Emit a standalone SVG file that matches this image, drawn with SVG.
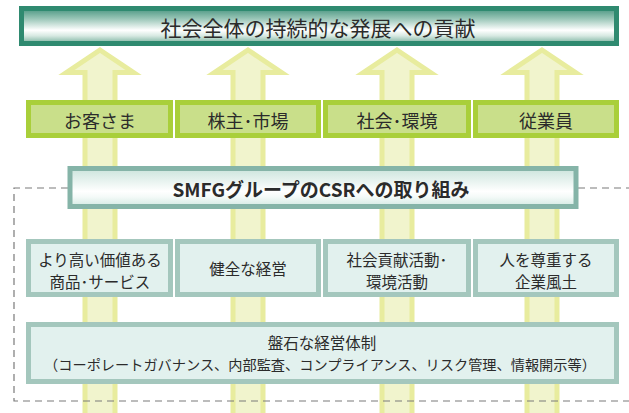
<svg xmlns="http://www.w3.org/2000/svg" width="629" height="413" viewBox="0 0 629 413">
<defs>
<linearGradient id="gTop" x1="0" y1="0" x2="0" y2="1">
<stop offset="0" stop-color="#4a9681"/>
<stop offset="0.3" stop-color="#9cc7b9"/>
<stop offset="0.62" stop-color="#ffffff"/>
<stop offset="0.78" stop-color="#d7e9e2"/>
<stop offset="1" stop-color="#78b09d"/>
</linearGradient>
<linearGradient id="gCsr" x1="0" y1="0" x2="0" y2="1">
<stop offset="0" stop-color="#cbe4dc"/>
<stop offset="0.6" stop-color="#ffffff"/>
<stop offset="0.75" stop-color="#f4faf8"/>
<stop offset="1" stop-color="#d2e9e2"/>
</linearGradient>
<polygon id="arrow" points="0,50 33.5,72.5 15,72.5 15,420 -15,420 -15,72.5 -33.5,72.5"/>
</defs>
<style>
.arr{fill:#f1f4cd;stroke:#e8ec9e;stroke-width:5;stroke-linejoin:miter}
.stk{fill:#c9df8a;stroke:#a9cf3a;stroke-width:5}
.act{fill:#e2f1ee;stroke:#a4c7bd;stroke-width:5}
.dash{fill:none;stroke:#7a7a7a;stroke-width:1.2;stroke-dasharray:7 5}
text{font-family:"Noto Sans CJK JP","Noto Sans CJK SC",sans-serif;fill:#2b2b2b;text-anchor:middle;dominant-baseline:central}
.t15{font-size:15.5px}
.t17{font-size:18px}
</style>
<g id="connectors">
<use href="#arrow" class="arr" x="100"/>
<use href="#arrow" class="arr" x="248"/>
<use href="#arrow" class="arr" x="397"/>
<use href="#arrow" class="arr" x="542"/>
</g>
<g id="boundary">
<path class="dash" d="M68,188 H14 V401 H629 M578,188 H629"/>
</g>
<g id="goal">
<rect x="21.5" y="8.5" width="595" height="35" fill="url(#gTop)" stroke="#2f8a70" stroke-width="5"/>
<text x="318" y="27" style="font-size:21px">社会全体の持続的な発展への貢献</text>
</g>
<g id="stakeholder-customers">
<rect x="28.5" y="102.5" width="142" height="33" class="stk"/>
<text x="100" y="120" class="t17">お客さま</text>
</g>
<g id="stakeholder-shareholders">
<rect x="177.5" y="102.5" width="141" height="33" class="stk"/>
<text x="248" y="120" class="t17">株主･市場</text>
</g>
<g id="stakeholder-society">
<rect x="325.5" y="102.5" width="143" height="33" class="stk"/>
<text x="397" y="120" class="t17">社会･環境</text>
</g>
<g id="stakeholder-employees">
<rect x="475.5" y="102.5" width="141" height="33" class="stk"/>
<text x="546" y="120" class="t17">従業員</text>
</g>
<g id="csr">
<rect x="70" y="168.5" width="506" height="38" fill="url(#gCsr)" stroke="#85b4a8" stroke-width="5"/>
<text x="321" y="188" style="font-size:19px;font-weight:bold">SMFGグループのCSRへの取り組み</text>
</g>
<g id="activity-products">
<rect x="28.5" y="241.5" width="142" height="53" class="act"/>
<text x="100" y="259" class="t15">より高い価値ある</text>
<text x="100" y="281" class="t15">商品･サービス</text>
</g>
<g id="activity-management">
<rect x="177.5" y="241.5" width="141" height="53" class="act"/>
<text x="248" y="268" class="t15">健全な経営</text>
</g>
<g id="activity-contribution">
<rect x="325.5" y="241.5" width="143" height="53" class="act"/>
<text x="397" y="259" class="t15">社会貢献活動･</text>
<text x="397" y="281" class="t15">環境活動</text>
</g>
<g id="activity-culture">
<rect x="475.5" y="241.5" width="141" height="53" class="act"/>
<text x="546" y="259" class="t15">人を尊重する</text>
<text x="546" y="281" class="t15">企業風土</text>
</g>
<g id="foundation">
<rect x="28.5" y="324.5" width="588" height="57" class="act"/>
<text x="322" y="342" class="t15">盤石な経営体制</text>
<text x="320" y="364" style="font-size:14.2px">（コーポレートガバナンス、内部監査、コンプライアンス、リスク管理、情報開示等）</text>
</g>
</svg>
